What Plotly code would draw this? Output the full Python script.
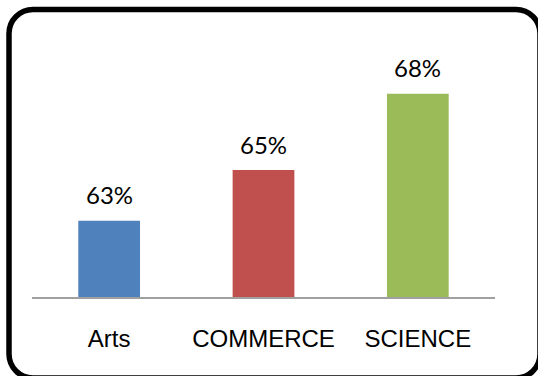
import plotly.graph_objects as go

# Pass percentage by stream
categories = ["Arts", "COMMERCE", "SCIENCE"]
values = [63, 65, 68]
bar_colors = ["#4F81BD", "#C0504D", "#9BBB59"]
labels = [f"{v}%" for v in values]

W, H = 538, 376


def px(x):
    return x / W


def py(y):
    return 1 - y / H


def rounded_rect(x0, y0, x1, y1, r):
    k = 0.5523 * r
    pts = [
        f"M {px(x0 + r)},{py(y0)}",
        f"L {px(x1 - r)},{py(y0)}",
        f"C {px(x1 - r + k)},{py(y0)} {px(x1)},{py(y0 + r - k)} {px(x1)},{py(y0 + r)}",
        f"L {px(x1)},{py(y1 - r)}",
        f"C {px(x1)},{py(y1 - r + k)} {px(x1 - r + k)},{py(y1)} {px(x1 - r)},{py(y1)}",
        f"L {px(x0 + r)},{py(y1)}",
        f"C {px(x0 + r - k)},{py(y1)} {px(x0)},{py(y1 - r + k)} {px(x0)},{py(y1 - r)}",
        f"L {px(x0)},{py(y0 + r)}",
        f"C {px(x0)},{py(y0 + r - k)} {px(x0 + r - k)},{py(y0)} {px(x0 + r)},{py(y0)}",
        "Z",
    ]
    return " ".join(pts)


fig = go.Figure(
    go.Bar(
        x=categories,
        y=values,
        marker=dict(color=bar_colors, line=dict(width=0)),
        width=0.4,
        hoverinfo="skip",
    )
)

for c, v, t in zip(categories, values, labels):
    fig.add_annotation(
        x=c, y=v, text=t, showarrow=False,
        xref="x", yref="y", yanchor="middle", yshift=26,
        font=dict(family="Lato", size=24, color="#000000"),
    )

fig.add_shape(
    type="path",
    path=rounded_rect(9, 9.5, 540, 378, 24),
    xref="paper", yref="paper",
    line=dict(color="#000000", width=5.5),
    fillcolor="rgba(0,0,0,0)",
)

fig.update_layout(
    width=W, height=H,
    margin=dict(l=0, r=0, t=0, b=0),
    paper_bgcolor="white",
    plot_bgcolor="white",
    showlegend=False,
    xaxis=dict(
        domain=[px(32), px(495)],
        showline=True, linecolor="#A0A0A0", linewidth=2,
        showgrid=False, zeroline=False,
        ticks="outside", ticklen=19, tickcolor="rgba(0,0,0,0)",
        tickfont=dict(family="Liberation Sans", size=24, color="#000000"),
    ),
    yaxis=dict(
        domain=[py(297), py(43)],
        range=[60, 70],
        showline=False, showgrid=False, zeroline=False,
        showticklabels=False, ticks="",
    ),
)

fig.write_html("out.html")
